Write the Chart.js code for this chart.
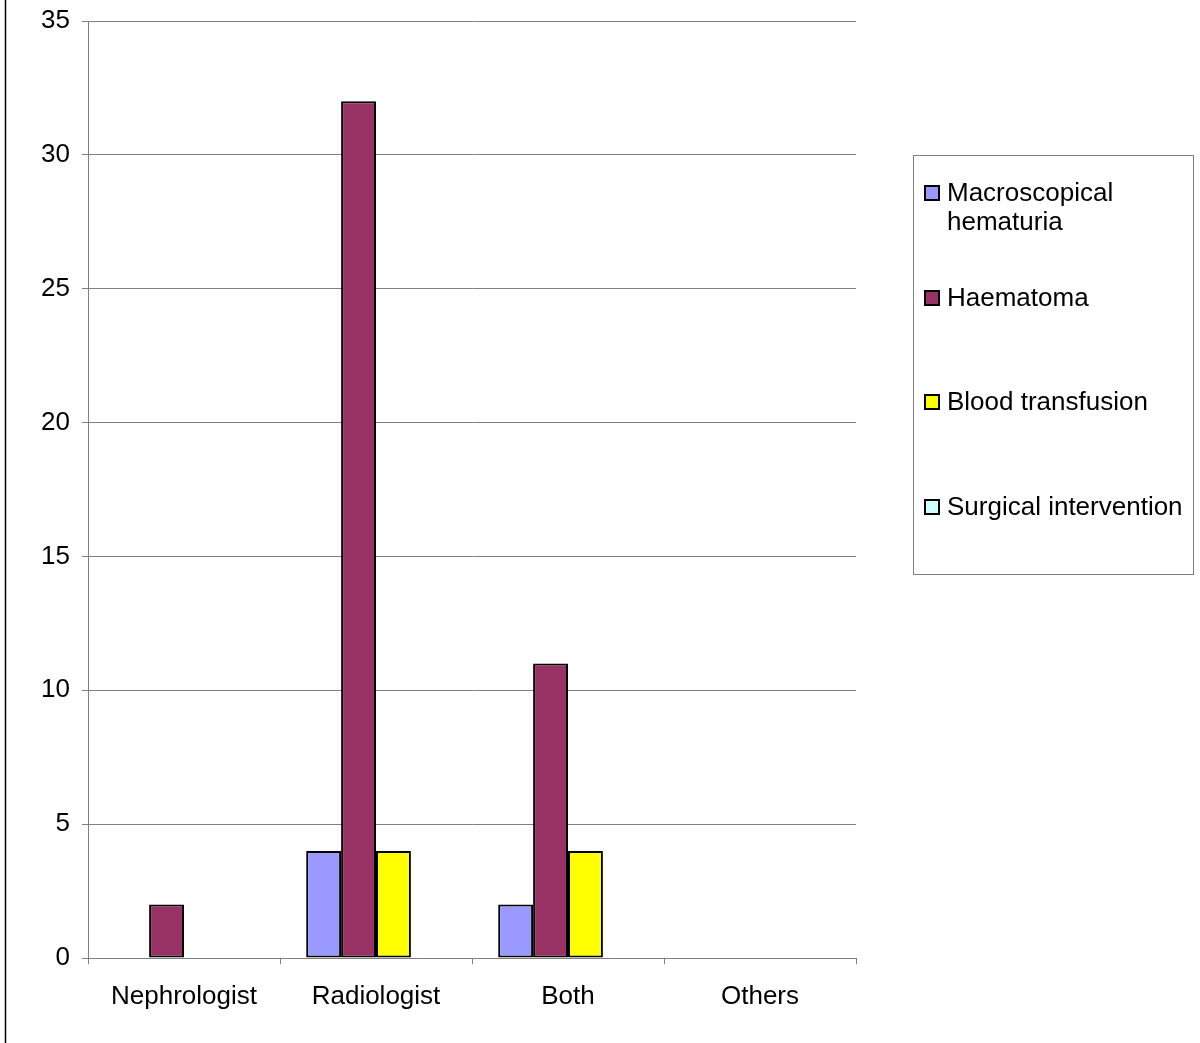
<!DOCTYPE html>
<html>
<head>
<meta charset="utf-8">
<script src="https://cdn.jsdelivr.net/npm/chart.js@4/dist/chart.umd.min.js"></script>
<style>
  html, body { margin: 0; padding: 0; background: #fff; }
  #wrap { width: 1200px; height: 1043px; position: relative; }
</style>
</head>
<body>
<div id="wrap"><canvas id="chart" width="1200" height="1043"></canvas></div>
<script>
// categories and series
const categories = ['Nephrologist', 'Radiologist', 'Both', 'Others'];
const macroscopicalHematuria = [0, 4, 2, 0];
const haematoma = [2, 32, 11, 0];
const bloodTransfusion = [0, 4, 4, 0];
const surgicalIntervention = [0, 0, 0, 0];
const yTicks = [0, 5, 10, 15, 20, 25, 30, 35];

const seriesNames = ['Macroscopical hematuria', 'Haematoma', 'Blood transfusion', 'Surgical intervention'];
const seriesColors = ['#9999FF', '#993366', '#FFFF00', '#CCFFFF'];
const seriesData = [macroscopicalHematuria, haematoma, bloodTransfusion, surgicalIntervention];

const FONT = 'Arial, "Liberation Sans", sans-serif';

// legend box drawn on the canvas, Excel style
const boxLegend = {
  id: 'boxLegend',
  afterDraw(chart) {
    const ctx = chart.ctx;
    ctx.save();
    // outer frame line on the left edge
    ctx.strokeStyle = '#000';
    ctx.lineWidth = 1.5;
    ctx.beginPath();
    ctx.moveTo(5.5, 0);
    ctx.lineTo(5.5, chart.height);
    ctx.stroke();

    ctx.strokeStyle = '#808080';
    ctx.lineWidth = 1;
    ctx.strokeRect(913.5, 155.5, 280, 419);

    ctx.font = '26px ' + FONT;
    ctx.textBaseline = 'middle';
    ctx.textAlign = 'left';
    const rows = [[193, ['Macroscopical', 'hematuria']], [298, ['Haematoma']], [402, ['Blood transfusion']], [507, ['Surgical intervention']]];
    rows.forEach(([y, lines], i) => {
      ctx.fillStyle = seriesColors[i];
      ctx.fillRect(925, y - 7, 14, 14);
      ctx.strokeStyle = '#000';
      ctx.lineWidth = 2;
      ctx.strokeRect(925, y - 7, 14, 14);
      ctx.fillStyle = '#000';
      lines.forEach((t, k) => ctx.fillText(t, 947, y + 1 + k * 29));
    });
    ctx.restore();
  }
};

new Chart(document.getElementById('chart'), {
  type: 'bar',
  data: {
    labels: categories,
    datasets: seriesData.map((d, i) => ({
      label: seriesNames[i],
      data: d,
      backgroundColor: seriesColors[i],
      borderColor: '#000',
      borderWidth: 2,
      borderSkipped: false,
      categoryPercentage: 4 / 5.5,
      barPercentage: 1
    }))
  },
  options: {
    responsive: false,
    animation: false,
    layout: { padding: { top: 21, right: 344, left: 0, bottom: 0 } },
    plugins: { legend: { display: false }, tooltip: { enabled: false } },
    scales: {
      x: {
        grid: { offset: true, drawOnChartArea: false, color: '#808080', tickLength: 6, lineWidth: 1 },
        border: { color: '#808080', width: 1 },
        ticks: { color: '#000', font: { size: 26, family: FONT }, padding: 17, maxRotation: 0 },
        afterFit(s) { s.height = 85; s.paddingLeft = 0; s.paddingRight = 0; }
      },
      y: {
        min: 0,
        max: 35,
        afterBuildTicks(s) { s.ticks = yTicks.map(v => ({ value: v })); },
        grid: { color: '#808080', tickLength: 6, lineWidth: 1 },
        border: { color: '#808080', width: 1 },
        ticks: { color: '#000', font: { size: 26, family: FONT }, padding: 12 },
        afterFit(s) { s.width = 88; s.paddingTop = 0; s.paddingBottom = 0; }
      }
    }
  },
  plugins: [boxLegend]
});
</script>
</body>
</html>
